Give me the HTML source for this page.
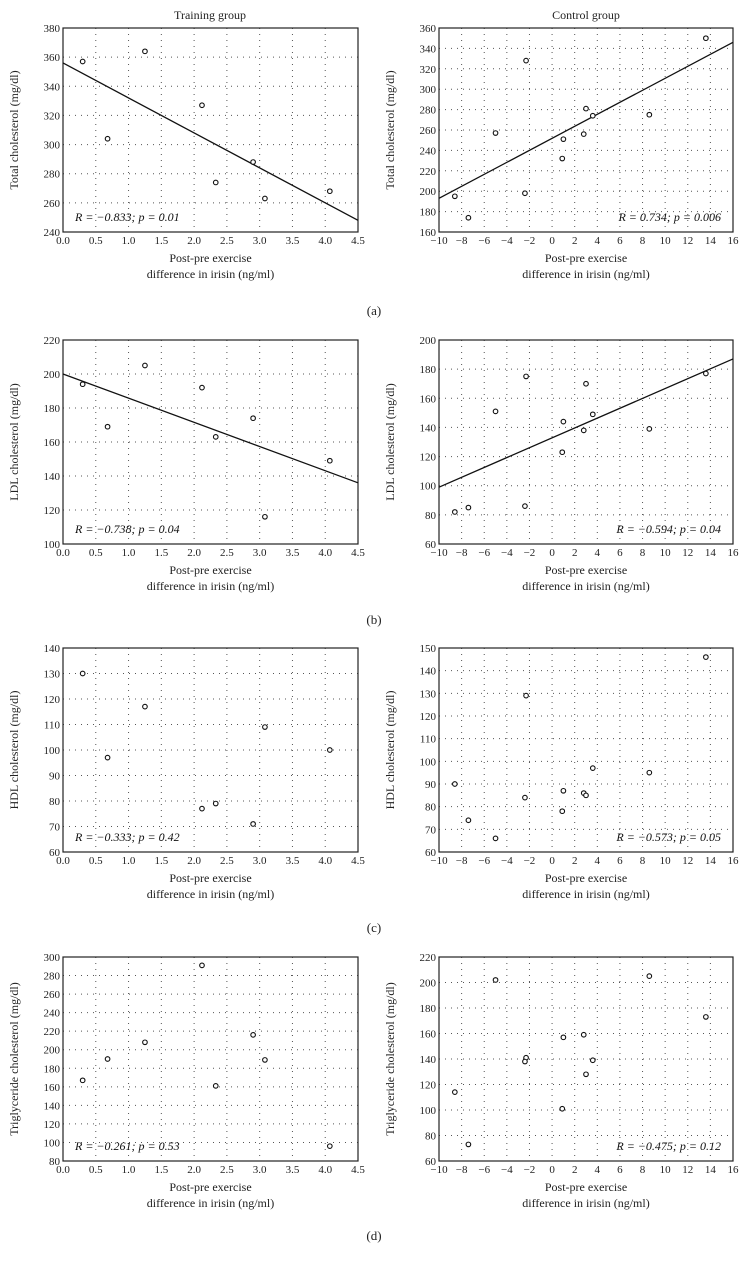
<!DOCTYPE html>
<html><head><meta charset="utf-8"><style>
body{margin:0;background:#fff;}
svg{display:block;font-family:"Liberation Serif",serif;}
</style></head><body>
<svg id="fig" width="749" height="1273" viewBox="0 0 749 1273"></svg>
<script>
const trainX=[0.3,0.68,1.25,2.12,2.33,2.9,3.08,4.07];
const ctrlX=[-8.6,-7.4,-5,-2.3,-2.4,1,0.9,2.8,3,3.6,8.6,13.6];
const trainTC=[357,304,364,327,274,288,263,268];
const ctrlTC=[195,174,257,328,198,251,232,256,281,274,275,350];
const trainLDL=[194,169,205,192,163,174,116,149];
const ctrlLDL=[82,85,151,175,86,144,123,138,170,149,139,177];
const trainHDL=[130,97,117,77,79,71,109,100];
const ctrlHDL=[90,74,66,129,84,87,78,86,85,97,95,146];
const trainTG=[167,190,208,291,161,216,189,96];
const ctrlTG=[114,73,202,141,138,157,101,159,128,139,205,173];
const trainTicks=[0,0.5,1,1.5,2,2.5,3,3.5,4,4.5];
const ctrlTicks=[-10,-8,-6,-4,-2,0,2,4,6,8,10,12,14,16];
const trainFitTC=[356,248];
const ctrlFitTC=[193,346];
const trainFitLDL=[200,136];
const ctrlFitLDL=[99,187];
const rowTops=[28,340,648,957];
const labels=["(a)","(b)","(c)","(d)"];
const panels=[
 {row:0,side:"L",x:trainX,y:trainTC,yt:[240,380,20],fit:trainFitTC,title:"Total cholesterol (mg/dl)",stat:"R = \u22120.833; p = 0.01"},
 {row:0,side:"R",x:ctrlX,y:ctrlTC,yt:[160,360,20],fit:ctrlFitTC,title:"Total cholesterol (mg/dl)",stat:"R = 0.734; p = 0.006"},
 {row:1,side:"L",x:trainX,y:trainLDL,yt:[100,220,20],fit:trainFitLDL,title:"LDL cholesterol (mg/dl)",stat:"R = \u22120.738; p = 0.04"},
 {row:1,side:"R",x:ctrlX,y:ctrlLDL,yt:[60,200,20],fit:ctrlFitLDL,title:"LDL cholesterol (mg/dl)",stat:"R = \u22120.594; p = 0.04"},
 {row:2,side:"L",x:trainX,y:trainHDL,yt:[60,140,10],fit:null,title:"HDL cholesterol (mg/dl)",stat:"R = \u22120.333; p = 0.42"},
 {row:2,side:"R",x:ctrlX,y:ctrlHDL,yt:[60,150,10],fit:null,title:"HDL cholesterol (mg/dl)",stat:"R = \u22120.573; p = 0.05"},
 {row:3,side:"L",x:trainX,y:trainTG,yt:[80,300,20],fit:null,title:"Triglyceride cholesterol (mg/dl)",stat:"R = \u22120.261; p = 0.53"},
 {row:3,side:"R",x:ctrlX,y:ctrlTG,yt:[60,220,20],fit:null,title:"Triglyceride cholesterol (mg/dl)",stat:"R = \u22120.475; p = 0.12"}
];
const NS="http://www.w3.org/2000/svg";
const svg=document.getElementById('fig');
function mk(tag,attrs,parent,text){const e=document.createElementNS(NS,tag);for(const k in attrs)e.setAttribute(k,attrs[k]);if(text!==undefined)e.textContent=text;(parent||svg).appendChild(e);return e;}
function fmtT(v,side){return side==="L"?v.toFixed(1):(v<0?"\u2212"+(-v):String(v));}
panels.forEach((p,i)=>{
 const L=p.side==="L";
 const x0=L?63:439,x1=L?358:733;
 const y0=rowTops[p.row],y1=y0+204;
 const xt=L?trainTicks:ctrlTicks;
 const xmin=xt[0],xmax=xt[xt.length-1];
 const [ymin,ymax,ystep]=p.yt;
 const sx=v=>x0+(v-xmin)/(xmax-xmin)*(x1-x0);
 const sy=v=>y1-(v-ymin)/(ymax-ymin)*(y1-y0);
 const g=mk('g',{});
 
 
 xt.forEach(v=>{const l=mk('line',{x1:sx(v),x2:sx(v),y1:y0,y2:y1,stroke:'#555','stroke-width':1,'stroke-dasharray':'1 5'},g);
  
  const t=mk('text',{x:sx(v),y:y1+12,'font-size':11,'text-anchor':'middle',fill:'#222'},g,fmtT(v,p.side));
  });
 for(let v=ymin;v<=ymax+1e-9;v+=ystep){const l=mk('line',{x1:x0,x2:x1,y1:sy(v),y2:sy(v),stroke:'#555','stroke-width':1,'stroke-dasharray':'1 5'},g);
  
  const t=mk('text',{x:x0-3,y:sy(v)+4,'font-size':11,'text-anchor':'end',fill:'#222'},g,String(v));
  }
 const r=mk('rect',{x:x0,y:y0,width:x1-x0,height:y1-y0,fill:'none',stroke:'#222','stroke-width':1.2},g);
 
 if(p.fit){const l=mk('line',{x1:x0,y1:sy(p.fit[0]),x2:x1,y2:sy(p.fit[1]),stroke:'#111','stroke-width':1.3},g);
  }
 p.y.forEach((v,k)=>{const c=mk('circle',{cx:sx(p.x[k]),cy:sy(v),r:2.3,fill:'#fff',stroke:'#111','stroke-width':1.1},g);
  });
 const st=mk('text',{x:L?x0+12:x1-12,y:y1-11,'font-size':12,'text-anchor':L?'start':'end',fill:'#111','font-style':'italic'},g,p.stat);
 
 const yt=mk('text',{x:0,y:0,'font-size':12,'text-anchor':'middle',fill:'#222',transform:`translate(${x0-45},${(y0+y1)/2}) rotate(-90)`},g,p.title);
 
 const a1=mk('text',{x:(x0+x1)/2,y:y1+30,'font-size':12,'text-anchor':'middle',fill:'#222'},g,'Post-pre exercise');
 
 const a2=mk('text',{x:(x0+x1)/2,y:y1+46,'font-size':12,'text-anchor':'middle',fill:'#222'},g,'difference in irisin (ng/ml)');
 
});
const t1=mk('text',{x:210,y:19,'font-size':12,'text-anchor':'middle',fill:'#222'},svg,'Training group');

const t2=mk('text',{x:586,y:19,'font-size':12,'text-anchor':'middle',fill:'#222'},svg,'Control group');

const labY=[315,624,932,1240];
labels.forEach((s,i)=>{const t=mk('text',{x:374,y:labY[i],'font-size':13,'text-anchor':'middle',fill:'#222'},svg,s);
 });
</script>
</body></html>
